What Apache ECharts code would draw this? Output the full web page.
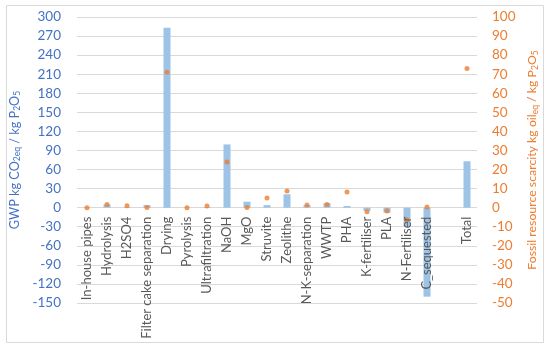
<!DOCTYPE html>
<html><head><meta charset="utf-8">
<script src="https://cdn.jsdelivr.net/npm/echarts@6/dist/echarts.min.js"></script>
<style>html,body{margin:0;padding:0;background:#fff}#c{width:550px;height:348px}</style>
</head><body><div id="c"></div>
<script>
const categories = ["In-house pipes","Hydrolysis","H2SO4","Filter cake separation","Drying","Pyrolysis","Ultrafiltration","NaOH","MgO","Struvite","Zeolithe","N-K-separation","WWTP","PHA","K-fertiliser","PLA","N-Fertiliser","C_sequested","","Total"];
const gwp = [0.5,5,0.8,4,283,0.3,1,99.5,9.4,4,21,4,7,2.7,-5,-8,-30,-140,null,73];
const fossil = [0,1.6,1.0,0.1,71,0,0.9,24,0.1,5.1,8.7,1.4,1.6,8.2,-2.2,-1.8,-6.4,0.3,null,73];
const leftTicks = {min:-150,max:300,interval:30};
const rightTicks = {min:-50,max:100,interval:10};

const FONT = 'Lato';
const chart = echarts.init(document.getElementById('c'), null, {renderer:'canvas'});
const sub = (c)=>({fontSize:8.5, color:c, fontFamily:FONT, verticalAlign:'bottom', padding:[5,0,0,0]});
const plotH = 348 - 17 - 45;
const zeroOffset = -plotH * (0 - leftTicks.min) / (leftTicks.max - leftTicks.min);
chart.setOption({
  animation:false,
  graphic:[{type:'rect',shape:{x:6.5,y:5.5,width:537,height:337},style:{fill:'none',stroke:'#d9d9d9',lineWidth:1},silent:true}],
  grid:{left:77,right:73,top:17,bottom:45,containLabel:false,outerBoundsMode:'none'},
  xAxis:{type:'category',data:categories,position:'bottom',offset:zeroOffset,z:20,
    axisLine:{show:false,onZero:false},axisTick:{show:false},
    axisLabel:{rotate:90,interval:0,color:'#595959',fontSize:13,fontFamily:FONT,margin:9}},
  yAxis:[
    {type:'value',min:leftTicks.min,max:leftTicks.max,interval:leftTicks.interval,
     axisLabel:{color:'#4472C4',fontSize:13.5,fontFamily:FONT,margin:16,showMinLabel:true,showMaxLabel:true},
     axisLine:{show:false},axisTick:{show:false},
     splitLine:{lineStyle:{color:'#d9d9d9'}},
     name:'{a|GWP kg CO}{s|2eq}{a| / kg P}{s|2}{a|O}{s|5}',nameLocation:'middle',nameGap:38,nameRotate:90,
     nameTextStyle:{rich:{a:{fontSize:12.7,color:'#4472C4',fontFamily:FONT},s:sub('#4472C4')}}},
    {type:'value',min:rightTicks.min,max:rightTicks.max,interval:rightTicks.interval,
     axisLabel:{color:'#ED7D31',fontSize:13.5,fontFamily:FONT,margin:15,showMinLabel:true,showMaxLabel:true},
     axisLine:{show:false},axisTick:{show:false},splitLine:{show:false},
     name:'{a|Fossil resource scarcity kg oil}{s|eq}{a| / kg P}{s|2}{a|O}{s|5}',nameLocation:'middle',nameGap:37,nameRotate:90,
     nameTextStyle:{rich:{a:{fontSize:12.3,color:'#ED7D31',fontFamily:FONT},s:sub('#ED7D31')}}}
  ],
  series:[
    {type:'bar',data:gwp,yAxisIndex:0,barWidth:7,z:2,itemStyle:{color:'#9DC3E6'}},
    {type:'scatter',data:fossil,yAxisIndex:1,symbolSize:5,z:3,itemStyle:{color:'#ED7D31'}}
  ]
});
</script></body></html>
